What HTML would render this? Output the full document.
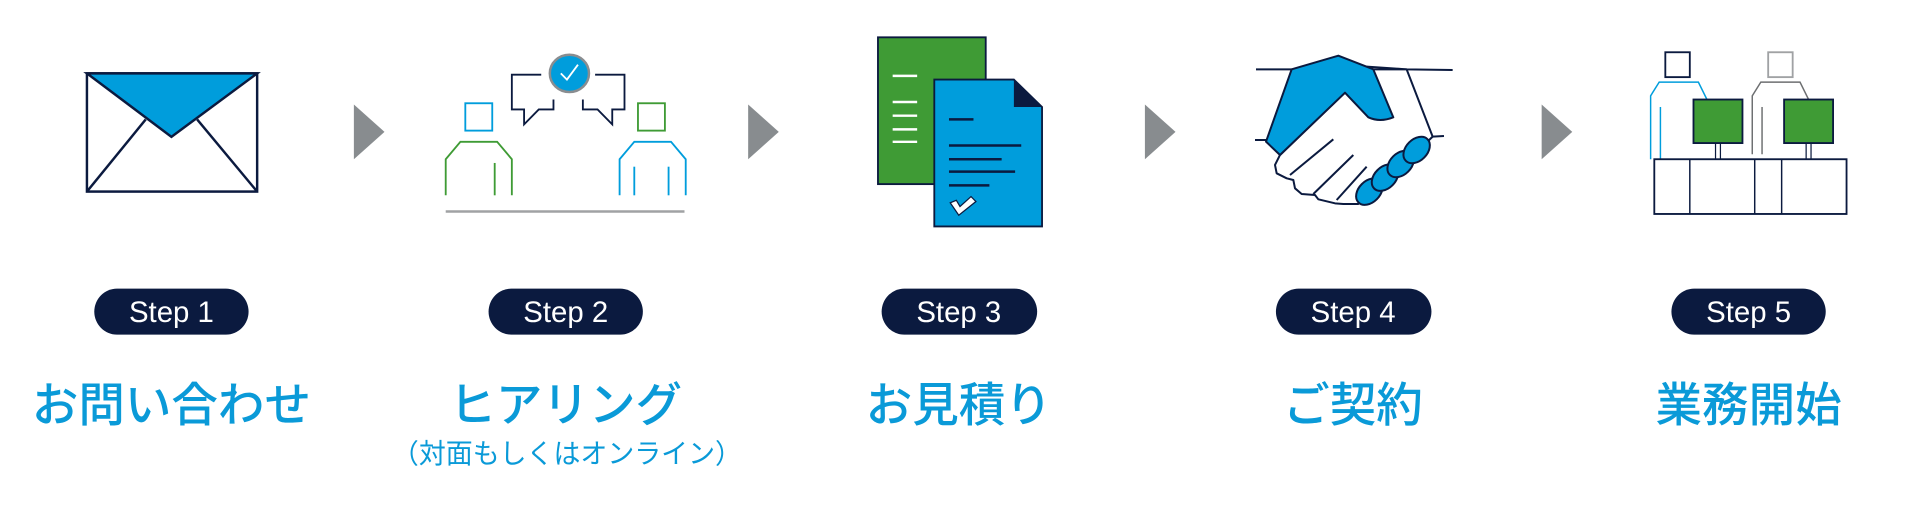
<!DOCTYPE html>
<html><head><meta charset="utf-8"><style>
html,body{margin:0;padding:0;background:#fff;}
svg{display:block}
.t{font-family:"Liberation Sans","Noto Sans CJK JP",sans-serif;}
</style></head><body>
<svg width="1920" height="510" xmlns="http://www.w3.org/2000/svg">
<g transform="scale(1.2245 1.244)" stroke-linejoin="miter">
  <!-- envelope -->
  <rect x="71" y="59" width="139" height="95" fill="#fff" stroke="#0b1a3f" stroke-width="2"/>
  <polygon points="71,59 210,59 140,110" fill="#009ddc" stroke="#0b1a3f" stroke-width="2"/>
  <line x1="71" y1="154" x2="119" y2="96" stroke="#0b1a3f" stroke-width="2"/>
  <line x1="210" y1="154" x2="161" y2="96" stroke="#0b1a3f" stroke-width="2"/>
  <!-- arrows -->
  <polygon points="289,84 314,106 289,128" fill="#888c8f"/>
  <polygon points="611,84 636,106 611,128" fill="#888c8f"/>
  <polygon points="935,84 960,106 935,128" fill="#888c8f"/>
  <polygon points="1259,84 1284,106 1259,128" fill="#888c8f"/>
  <!-- step2 -->
  <rect x="380" y="83" width="22" height="22" fill="none" stroke="#009ddc" stroke-width="1.5"/>
  <path d="M364,157 V128 L376,114 H406 L418,128 V157" fill="none" stroke="#3f9b35" stroke-width="1.5"/>
  <line x1="404" y1="131" x2="404" y2="157" stroke="#3f9b35" stroke-width="1.5"/>
  <rect x="521" y="83" width="22" height="22" fill="none" stroke="#3f9b35" stroke-width="1.5"/>
  <path d="M506,157 V128 L518,114 H548 L560,128 V157" fill="none" stroke="#009ddc" stroke-width="1.5"/>
  <line x1="518" y1="134" x2="518" y2="157" stroke="#009ddc" stroke-width="1.5"/>
  <line x1="546" y1="134" x2="546" y2="157" stroke="#009ddc" stroke-width="1.5"/>
  <path d="M442,60 H418 V88 H428 V100 L440,88 H452 V80" fill="none" stroke="#0b1a3f" stroke-width="1.5"/>
  <path d="M486,60 H510 V88 H500 V100 L488,88 H476 V80" fill="none" stroke="#0b1a3f" stroke-width="1.5"/>
  <ellipse cx="465" cy="59" rx="16" ry="15" fill="#009ddc" stroke="#8a8d90" stroke-width="2"/>
  <path d="M458,59 L463,64 L472,52" fill="none" stroke="#fff" stroke-width="1.5"/>
  <line x1="364" y1="170" x2="559" y2="170" stroke="#a0a2a4" stroke-width="2"/>
  <!-- step3 -->
  <rect x="717" y="30" width="88" height="118" fill="#3f9b35" stroke="#0b1a3f" stroke-width="1.5"/>
  <g stroke="#fff" stroke-width="2">
    <line x1="729" y1="61" x2="749" y2="61"/><line x1="729" y1="82" x2="749" y2="82"/>
    <line x1="729" y1="93" x2="749" y2="93"/><line x1="729" y1="104" x2="749" y2="104"/>
    <line x1="729" y1="114" x2="749" y2="114"/>
  </g>
  <polygon points="763,64 828,64 851,86 851,182 763,182" fill="#009ddc" stroke="#0b1a3f" stroke-width="1.5"/>
  <polygon points="828,64 851,86 828,86" fill="#0b1a3f"/>
  <g stroke="#0b1a3f" stroke-width="2">
    <line x1="775" y1="96" x2="795" y2="96"/><line x1="775" y1="117" x2="834" y2="117"/>
    <line x1="775" y1="128" x2="818" y2="128"/><line x1="775" y1="138" x2="829" y2="138"/>
    <line x1="775" y1="149" x2="808" y2="149"/>
  </g>
  <path d="M776,163 L781,161 L784,166 L793,158 L797,162 L783,173 Z" fill="#fff" stroke="#0b1a3f" stroke-width="1"/>
  <!-- step5 -->
  <rect x="1360" y="42" width="20" height="20" fill="none" stroke="#0b1a3f" stroke-width="1.5"/>
  <rect x="1444" y="42" width="20" height="20" fill="none" stroke="#a0a2a4" stroke-width="1.5"/>
  <path d="M1348,128 V77 L1355,66 H1387 L1394,80" fill="none" stroke="#009ddc" stroke-width="1.2"/>
  <line x1="1356" y1="86" x2="1356" y2="128" stroke="#009ddc" stroke-width="1.2"/>
  <path d="M1431,124 V77 L1438,66 H1470 L1477,80" fill="none" stroke="#6d6f71" stroke-width="1.2"/>
  <line x1="1439" y1="86" x2="1439" y2="124" stroke="#6d6f71" stroke-width="1.2"/>
  <rect x="1383" y="80" width="40" height="35" fill="#3f9b35" stroke="#0b1a3f" stroke-width="1.5"/>
  <rect x="1457" y="80" width="40" height="35" fill="#3f9b35" stroke="#0b1a3f" stroke-width="1.5"/>
  <g stroke="#0b1a3f" stroke-width="1">
    <line x1="1401" y1="115" x2="1401" y2="128"/><line x1="1405" y1="115" x2="1405" y2="128"/>
    <line x1="1475" y1="115" x2="1475" y2="128"/><line x1="1479" y1="115" x2="1479" y2="128"/>
  </g>
  <rect x="1351" y="128" width="157" height="44" fill="none" stroke="#0b1a3f" stroke-width="1.5"/>
  <g stroke="#0b1a3f" stroke-width="1.2">
    <line x1="1380" y1="128" x2="1380" y2="172"/><line x1="1433" y1="128" x2="1433" y2="172"/>
    <line x1="1455" y1="128" x2="1455" y2="172"/>
  </g>
  <!-- pills -->
  <g fill="#0b1a3f">
    <rect x="77" y="232" width="126" height="37" rx="18.5"/>
    <rect x="399" y="232" width="126" height="37" rx="18.5"/>
    <rect x="720" y="232" width="127" height="37" rx="18.5"/>
    <rect x="1042" y="232" width="127" height="37" rx="18.5"/>
    <rect x="1365" y="232" width="126" height="37" rx="18.5"/>
  </g>
  <g class="t" fill="#fff" font-size="24" text-anchor="middle">
    <text x="140" y="259">Step 1</text>
    <text x="462" y="259">Step 2</text>
    <text x="783" y="259">Step 3</text>
    <text x="1105" y="259">Step 4</text>
    <text x="1428" y="259">Step 5</text>
  </g>
  <g class="t" fill="#0a9ad8" font-size="38" font-weight="500" text-anchor="middle">
    <text x="140" y="339">お問い合わせ</text>
    <text x="462" y="339">ヒアリング</text>
    <text x="783" y="339">お見積り</text>
    <text x="1105" y="339">ご契約</text>
    <text x="1428" y="339">業務開始</text>
  </g>
  <text class="t" x="463" y="372" fill="#0a9ad8" font-size="22" text-anchor="middle">（対面もしくはオンライン）</text>
</g>
<!-- handshake in original coords -->
<g transform="translate(1240 40) scale(0.3333)" stroke="#0b1a3f" stroke-width="6" stroke-linejoin="round">
  <line x1="48" y1="88" x2="155" y2="88"/>
  <polyline points="380,80 500,88 638,90" fill="none"/>
  <line x1="45" y1="300" x2="78" y2="300"/>
  <line x1="578" y1="290" x2="612" y2="288"/>
  <path d="M400,88 L500,88 L578,290 L555,312 L380,440 L355,492 L310,492 L285,490 L235,478 L225,465 L185,462 L165,445 L160,420 L140,415 L110,400 L105,375 L120,345 L315,158 Z" fill="#fff"/>
  <path d="M155,88 L295,47 L380,80 L400,88 L460,232 Q420,248 385,232 L315,158 L120,345 L78,305 Z" fill="#009ddc"/>
  <line x1="280" y1="298" x2="150" y2="405"/>
  <line x1="340" y1="345" x2="220" y2="462"/>
  <line x1="380" y1="380" x2="290" y2="480"/>
  <g fill="#009ddc">
    <ellipse cx="388" cy="455" rx="46" ry="32" transform="rotate(-45 388 455)"/>
    <ellipse cx="435" cy="413" rx="46" ry="32" transform="rotate(-45 435 413)"/>
    <ellipse cx="482" cy="372" rx="46" ry="32" transform="rotate(-45 482 372)"/>
    <ellipse cx="530" cy="330" rx="46" ry="32" transform="rotate(-45 530 330)"/>
  </g>
</g>
</svg>
</body></html>
